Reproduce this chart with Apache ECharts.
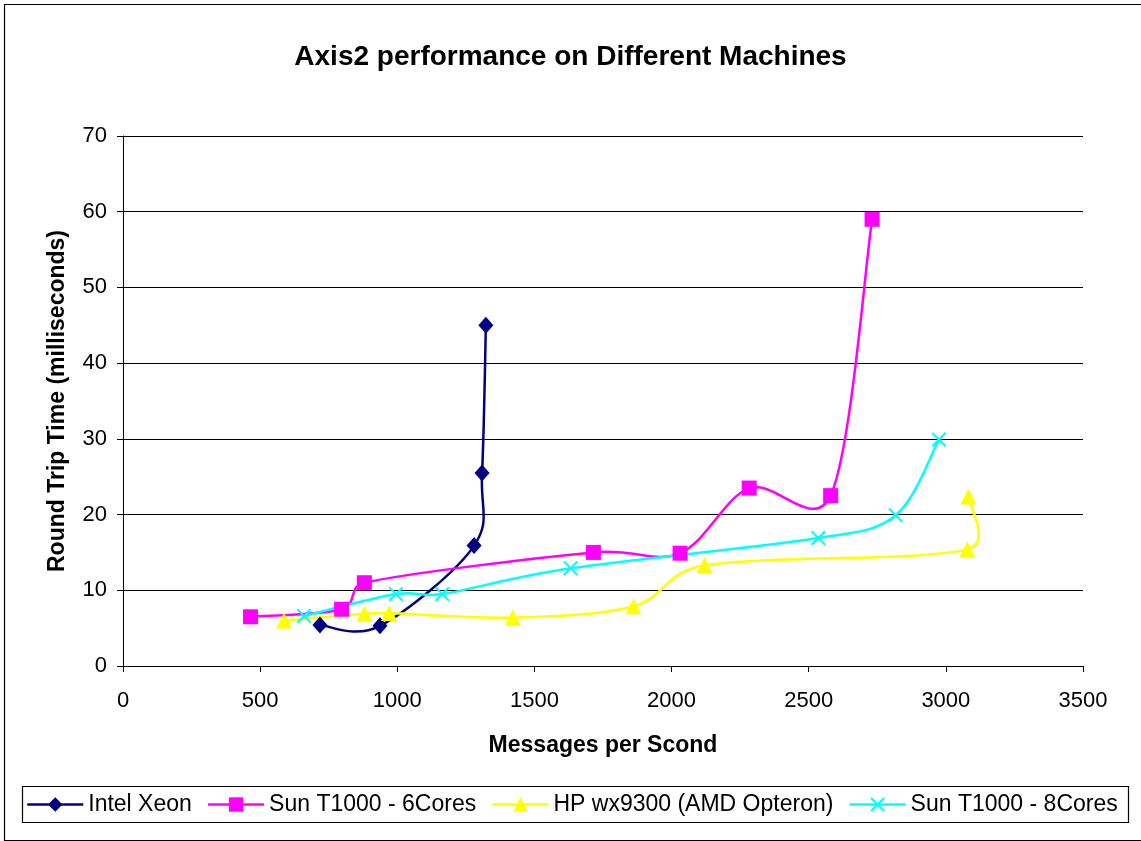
<!DOCTYPE html>
<html>
<head>
<meta charset="utf-8">
<script src="https://cdn.jsdelivr.net/npm/echarts@6/dist/echarts.min.js"></script>
<style>
html,body{margin:0;padding:0;background:#fff;}
#chart{width:1141px;height:841px;}
</style>
</head>
<body>
<div id="chart"></div>
<script>
// Data
var seriesNames = ['Intel Xeon', 'Sun T1000 - 6Cores', 'HP wx9300 (AMD Opteron)', 'Sun T1000 - 8Cores'];
var seriesColors = ['#000080', '#FF00FF', '#FFFF00', '#00FFFF'];

var intelX = [718, 937, 1280, 1309, 1323];
var intelY = [5.4, 5.3, 15.9, 25.5, 45.0];

var sun6X = [465, 797, 880, 1715, 2031, 2283, 2580, 2731];
var sun6Y = [6.5, 7.5, 11.0, 15.0, 14.9, 23.5, 22.5, 59.0];

var hpX = [587, 880, 970, 1421, 1861, 2120, 3078, 3082];
var hpY = [6.0, 6.9, 7.0, 6.4, 7.9, 13.3, 15.4, 22.4];

var sun8X = [660, 995, 1164, 1632, 2535, 2817, 2975];
var sun8Y = [6.6, 9.5, 9.5, 12.9, 16.9, 19.9, 29.9];

var xTicks = [0, 500, 1000, 1500, 2000, 2500, 3000, 3500];
var yTicks = [0, 10, 20, 30, 40, 50, 60, 70];

function pairs(xs, ys) {
  var out = [];
  for (var i = 0; i < xs.length; i++) out.push([xs[i], ys[i]]);
  return out;
}

var FONT = 'Liberation Sans, Arial, Helvetica, sans-serif';
var xSymbol = 'path://M0,1 L1,0 L5,4 L9,0 L10,1 L6,5 L10,9 L9,10 L5,6 L1,10 L0,9 L4,5 Z';
var LINE_W = 2.5;

var chart = echarts.init(document.getElementById('chart'), null, {renderer: 'canvas'});

// Marker series (its own line hidden; the smooth curve is drawn by a custom series)
function markerSeries(name, xs, ys, color, symbol, size) {
  return {
    name: name,
    type: 'line',
    data: pairs(xs, ys),
    symbol: symbol,
    symbolSize: size,
    showAllSymbol: true,
    color: color,
    lineStyle: {color: color, width: LINE_W, opacity: 0},
    itemStyle: {color: color},
    emphasis: {disabled: true},
    animation: false,
    z: 4
  };
}

function dist(a, b) { var dx = a[0] - b[0], dy = a[1] - b[1]; return Math.sqrt(dx * dx + dy * dy); }

// Excel-style smoothed curve; points are placed with the axes' scales via api.coord
function curveSeries(id, xs, ys, color) {
  return {
    id: id,
    type: 'custom',
    coordinateSystem: 'cartesian2d',
    data: pairs(xs, ys),
    encode: {x: 0, y: 1},
    silent: true,
    animation: false,
    z: 3,
    renderItem: function (params, api) {
      if (params.dataIndex !== 0) return null;
      var pts = [];
      for (var i = 0; i < xs.length; i++) pts.push(api.coord([xs[i], ys[i]]));
      var n = pts.length, children = [], f = 1 / 6;
      for (var j = 0; j < n - 1; j++) {
        var p0 = pts[Math.max(j - 1, 0)], p1 = pts[j], p2 = pts[j + 1], p3 = pts[Math.min(j + 2, n - 1)];
        var d02 = dist(p0, p2), d13 = dist(p1, p3), d12 = dist(p1, p2);
        var f1 = (d02 / 6 < d12 / 2 || d02 === 0) ? f : d12 / (2 * d02);
        var f2 = (d13 / 6 < d12 / 2 || d13 === 0) ? f : d12 / (2 * d13);
        children.push({
          type: 'bezierCurve',
          shape: {
            x1: p1[0], y1: p1[1], x2: p2[0], y2: p2[1],
            cpx1: p1[0] + (p2[0] - p0[0]) * f1, cpy1: p1[1] + (p2[1] - p0[1]) * f1,
            cpx2: p2[0] - (p3[0] - p1[0]) * f2, cpy2: p2[1] - (p3[1] - p1[1]) * f2
          },
          style: {stroke: color, lineWidth: LINE_W, fill: null}
        });
      }
      return {type: 'group', children: children};
    }
  };
}

var legendData = seriesNames.map(function (nm, i) {
  return {name: nm, lineStyle: {color: seriesColors[i], width: LINE_W, opacity: 1}};
});

var option = {
  backgroundColor: '#ffffff',
  animation: false,
  textStyle: {fontFamily: FONT},
  title: {
    text: 'Axis2 performance on Different Machines',
    left: 'center',
    top: 38,
    textStyle: {fontFamily: FONT, fontSize: 28, fontWeight: 'bold', color: '#000'}
  },
  grid: {left: 123, right: 58, top: 136, bottom: 175, containLabel: false},
  xAxis: {
    type: 'value',
    min: 0, max: 3500, interval: 500,
    name: 'Messages per Scond',
    nameLocation: 'middle',
    nameGap: 68,
    nameTextStyle: {fontFamily: FONT, fontSize: 23, fontWeight: 'bold', color: '#000'},
    axisLine: {show: true, lineStyle: {color: '#000', width: 1}},
    axisTick: {show: true, inside: false, length: 6, lineStyle: {color: '#000'}},
    axisLabel: {fontFamily: FONT, fontSize: 22, color: '#000', margin: 24,
      formatter: function (v) { return xTicks.indexOf(v) >= 0 ? String(v) : ''; }},
    splitLine: {show: false}
  },
  yAxis: {
    type: 'value',
    min: 0, max: 70, interval: 10,
    name: 'Round Trip Time (milliseconds)',
    nameLocation: 'middle',
    nameGap: 54,
    nameRotate: 90,
    nameTextStyle: {fontFamily: FONT, fontSize: 23, fontWeight: 'bold', color: '#000'},
    axisLine: {show: true, lineStyle: {color: '#000', width: 1}},
    axisTick: {show: true, inside: false, length: 6, lineStyle: {color: '#000'}},
    axisLabel: {fontFamily: FONT, fontSize: 22, color: '#000', margin: 16,
      formatter: function (v) { return yTicks.indexOf(v) >= 0 ? String(v) : ''; }},
    splitLine: {show: true, lineStyle: {color: '#000', width: 1}}
  },
  legend: {
    data: legendData,
    left: 26,
    top: 793,
    padding: 0,
    itemWidth: 56,
    itemHeight: 18,
    itemGap: 15,
    selectedMode: false,
    textStyle: {fontFamily: FONT, fontSize: 23, color: '#000'}
  },
  graphic: [
    {type: 'rect', left: 2, top: 2, z: -1, silent: true,
      shape: {x: 0, y: 0, width: 1160, height: 836},
      style: {fill: 'none', stroke: '#000', lineWidth: 1.2}},
    {type: 'rect', left: 20, top: 784, z: -1, silent: true,
      shape: {x: 0, y: 0, width: 1106, height: 36},
      style: {fill: 'none', stroke: '#000', lineWidth: 1.2}}
  ],
  series: [
    curveSeries('c0', intelX, intelY, seriesColors[0]),
    curveSeries('c1', sun6X, sun6Y, seriesColors[1]),
    curveSeries('c2', hpX, hpY, seriesColors[2]),
    curveSeries('c3', sun8X, sun8Y, seriesColors[3]),
    markerSeries(seriesNames[0], intelX, intelY, seriesColors[0], 'diamond', [15, 17]),
    markerSeries(seriesNames[1], sun6X, sun6Y, seriesColors[1], 'rect', 15),
    markerSeries(seriesNames[2], hpX, hpY, seriesColors[2], 'triangle', 16),
    markerSeries(seriesNames[3], sun8X, sun8Y, seriesColors[3], xSymbol, 15)
  ]
};

chart.setOption(option);
</script>
</body>
</html>
